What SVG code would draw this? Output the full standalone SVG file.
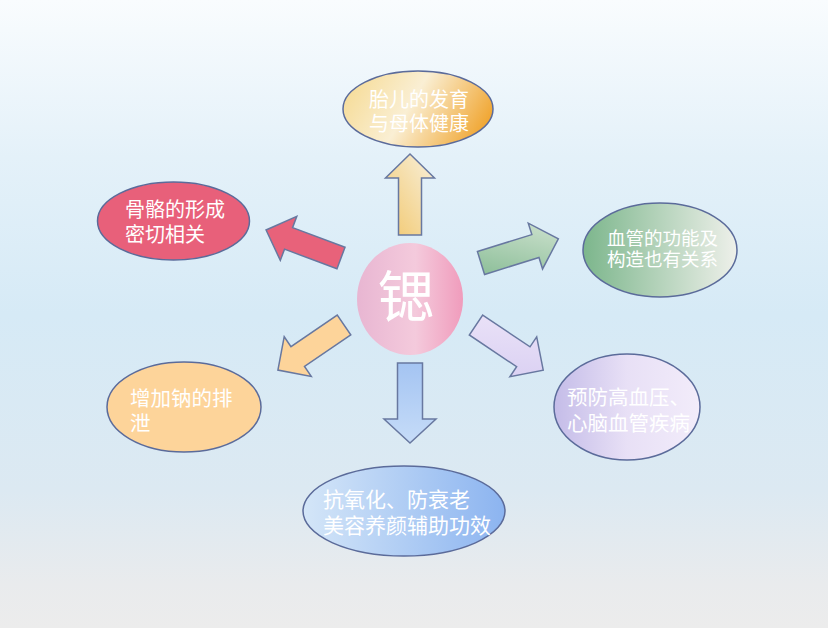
<svg xmlns="http://www.w3.org/2000/svg" width="828" height="628" viewBox="0 0 828 628">
<defs>
<linearGradient id="bg" x1="0" y1="0" x2="0" y2="1">
<stop offset="0" stop-color="#f9fcfe"/>
<stop offset="0.25" stop-color="#e4f1f9"/>
<stop offset="0.5" stop-color="#d6eaf6"/>
<stop offset="0.78" stop-color="#dce9f2"/>
<stop offset="0.93" stop-color="#e9ebed"/>
<stop offset="1" stop-color="#ececec"/>
</linearGradient>
<linearGradient id="gTop" x1="0" y1="0.3" x2="1" y2="0.6">
<stop offset="0" stop-color="#f6dc98"/>
<stop offset="0.45" stop-color="#faefd4"/>
<stop offset="1" stop-color="#f0a530"/>
</linearGradient>
<linearGradient id="gGreen" x1="0" y1="0" x2="1" y2="0">
<stop offset="0" stop-color="#7cb68c"/>
<stop offset="1" stop-color="#eef0ea"/>
</linearGradient>
<linearGradient id="gPurple" x1="0" y1="0" x2="1" y2="0">
<stop offset="0" stop-color="#c4bce8"/>
<stop offset="0.5" stop-color="#e8e0f6"/>
<stop offset="1" stop-color="#f2ecfa"/>
</linearGradient>
<linearGradient id="gBlue" x1="0" y1="0" x2="1" y2="0">
<stop offset="0" stop-color="#d4e6f8"/>
<stop offset="1" stop-color="#8cb4f0"/>
</linearGradient>
<linearGradient id="gCenter" x1="0" y1="0" x2="1" y2="0">
<stop offset="0" stop-color="#e8b6d2"/>
<stop offset="0.55" stop-color="#f4cadc"/>
<stop offset="1" stop-color="#f09cbc"/>
</linearGradient>
<linearGradient id="aUp" x1="0" y1="0" x2="1" y2="1">
<stop offset="0" stop-color="#f2c86e"/>
<stop offset="1" stop-color="#f8f0dc"/>
</linearGradient>
<linearGradient id="aGreen" x1="0" y1="1" x2="1" y2="0">
<stop offset="0" stop-color="#84ba92"/>
<stop offset="1" stop-color="#d2e4d2"/>
</linearGradient>
<linearGradient id="aPurple" x1="0" y1="0" x2="1" y2="1">
<stop offset="0" stop-color="#ece4f8"/>
<stop offset="1" stop-color="#d8cef2"/>
</linearGradient>
<linearGradient id="aDown" x1="0" y1="0" x2="1" y2="0">
<stop offset="0" stop-color="#a4c4f2"/>
<stop offset="1" stop-color="#c6dcf8"/>
</linearGradient>
</defs>
<style>
.node{stroke:#5b6b9a;stroke-width:1.5}
.arr{stroke:#6878a0;stroke-width:1.5;stroke-linejoin:miter}
.t{font-family:"Liberation Sans","Noto Sans CJK SC",sans-serif;fill:#ffffff;font-size:20px}
</style>
<rect x="0" y="0" width="828" height="628" fill="url(#bg)"/>
<g id="connectors">
<polygon class="arr" fill="url(#aUp)" points="0,-11.5 57,-11.5 57,-24.5 81,0 57,24.5 57,11.5 0,11.5" transform="translate(410,235) rotate(-90)"/>
<polygon class="arr" fill="#e8627a" points="0,-11.5 56,-11.5 56,-23.5 80,0 56,23.5 56,11.5 0,11.5" transform="translate(341,258) rotate(200.5)"/>
<polygon class="arr" fill="url(#aGreen)" points="0,-12 57,-12 57,-24 81,0 57,24 57,12 0,12" transform="translate(481,263) rotate(-17.3)"/>
<polygon class="arr" fill="#fdd49a" points="0,-12 56,-12 56,-24 80,0 56,24 56,12 0,12" transform="translate(344,325) rotate(145.7)"/>
<polygon class="arr" fill="url(#aPurple)" points="0,-12 57,-12 57,-24 81,0 57,24 57,12 0,12" transform="translate(476,325) rotate(33.9)"/>
<polygon class="arr" fill="url(#aDown)" points="0,-12.5 56,-12.5 56,-26 80,0 56,26 56,12.5 0,12.5" transform="translate(410,363) rotate(90)"/>
</g>
<g id="center">
<ellipse cx="410" cy="299" rx="53" ry="56" fill="url(#gCenter)"/>
<text x="406" y="317" class="t" style="font-size:56px" text-anchor="middle">锶</text>
</g>
<g id="node-top">
<ellipse class="node" cx="418" cy="109" rx="75" ry="38" fill="url(#gTop)"/>
<text class="t" x="369" y="107">胎儿的发育<tspan x="369" dy="24">与母体健康</tspan></text>
</g>
<g id="node-bone">
<ellipse class="node" cx="173.5" cy="221" rx="76" ry="39" fill="#e8607a"/>
<text class="t" x="125" y="217">骨骼的形成<tspan x="125" dy="25">密切相关</tspan></text>
</g>
<g id="node-vessel">
<ellipse class="node" cx="660" cy="250" rx="77" ry="47" fill="url(#gGreen)"/>
<text class="t" x="607" y="244.5" style="font-size:18.5px">血管的功能及<tspan x="607" dy="21">构造也有关系</tspan></text>
</g>
<g id="node-sodium">
<ellipse class="node" cx="184" cy="407" rx="77" ry="45" fill="#fdd49a"/>
<text class="t" x="130" y="406" style="font-size:20.5px">增加钠的排<tspan x="130" dy="25">泄</tspan></text>
</g>
<g id="node-blood">
<ellipse class="node" cx="627" cy="407" rx="73" ry="53" fill="url(#gPurple)"/>
<text class="t" x="567" y="405" style="font-size:20.5px">预防高血压、<tspan x="567" dy="26">心脑血管疾病</tspan></text>
</g>
<g id="node-anti">
<ellipse class="node" cx="404" cy="511" rx="101" ry="45" fill="url(#gBlue)"/>
<text class="t" x="323" y="507" style="font-size:21px">抗氧化、防衰老<tspan x="323" dy="26">美容养颜辅助功效</tspan></text>
</g>
</svg>
